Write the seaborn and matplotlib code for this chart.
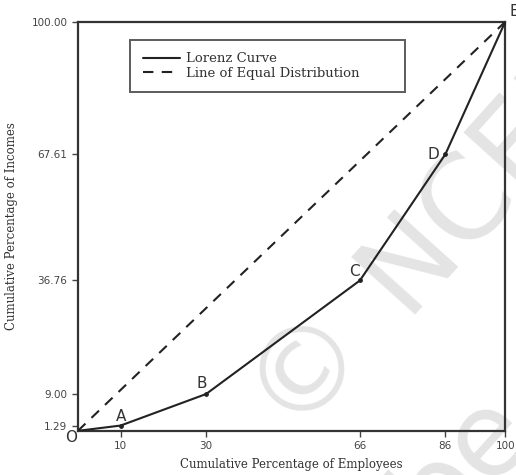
import matplotlib
matplotlib.use("Agg")
from matplotlib import pyplot as plt
import seaborn as sns
import pandas as pd

# Lorenz curve data
points = ['O', 'A', 'B', 'C', 'D', 'E']
employees = [0, 10, 30, 66, 86, 100]
incomes = [0, 1.29, 9.00, 36.76, 67.61, 100.00]
x_ticks = [10, 30, 66, 86, 100]
y_ticks = [1.29, 9.00, 36.76, 67.61, 100.00]
y_tick_labels = ['1.29', '9.00', '36.76', '67.61', '100.00']

sns.set_style("ticks")
plt.rcParams['font.family'] = ['DejaVu Sans']

df = pd.DataFrame({'Employees': employees, 'Incomes': incomes})
eq = pd.DataFrame({'Employees': [0, 100], 'Incomes': [0, 100]})

fig = plt.figure(figsize=(5.16, 4.75), dpi=100)
ax = fig.add_axes([0.151, 0.093, 0.828, 0.861])

# faint watermark
wm = dict(fontsize=84, color='#e4e4e4', rotation=48, rotation_mode='anchor',
          va='center', zorder=0, clip_on=False)
ax.text(53.2, 16.6, "\u00a9", ha='center', **wm)
ax.text(70.7, 33.7, "NCERT", ha='left', **wm)
ax.text(78.5, -20.8, "be", ha='left', **wm)

sns.lineplot(data=df, x='Employees', y='Incomes', ax=ax, color='#222222',
             linewidth=1.5, label='Lorenz Curve', zorder=3)
sns.lineplot(data=eq, x='Employees', y='Incomes', ax=ax, color='#222222',
             linewidth=1.5, linestyle=(0, (5, 4)), label='Line of Equal Distribution', zorder=3)
ax.scatter(employees[1:], incomes[1:], s=6, color='#222222', zorder=4)

# point labels
offsets = {'O': (-1.5, -1.6), 'A': (0, 2.3), 'B': (-1.0, 2.5), 'C': (-1.2, 2.2),
           'D': (-2.7, 0.0), 'E': (2.2, 2.6)}
for p, xv, yv in zip(points, employees, incomes):
    dx, dy = offsets[p]
    ax.text(xv + dx, yv + dy, p, fontsize=11, color='#333333',
            ha='center', va='center', clip_on=False, zorder=5)

ax.set_xlim(0, 100)
ax.set_ylim(0, 100)
ax.set_xticks(x_ticks)
ax.set_yticks(y_ticks)
ax.set_yticklabels(y_tick_labels)
ax.tick_params(labelsize=7.5, labelcolor='#444444', color='#444444', length=4, width=1)
for s in ax.spines.values():
    s.set_linewidth(1.6)
    s.set_color('#333333')

ax.set_xlabel('Cumulative Percentage of Employees', family='DejaVu Serif',
              fontsize=8.5, color='#333333', labelpad=5)
ax.set_ylabel('Cumulative Percentage of Incomes', family='DejaVu Serif',
              fontsize=8.5, color='#333333', labelpad=10)

leg = ax.legend(loc='upper left', bbox_to_anchor=(0.122, 0.956, 0.644, 0), mode='expand',
                frameon=True, fancybox=False, edgecolor='#333333', handlelength=2.8,
                handletextpad=0.5, borderpad=0.95, borderaxespad=0, labelspacing=0.1,
                prop={'family': 'DejaVu Serif', 'size': 9.5})
leg.get_frame().set_linewidth(1.4)
for t in leg.get_texts():
    t.set_color('#333333')

fig.savefig('out.png', dpi=100)
